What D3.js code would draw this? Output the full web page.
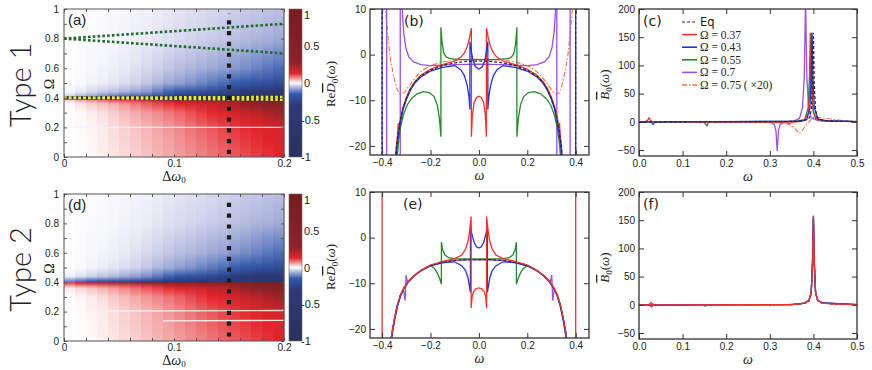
<!DOCTYPE html>
<html>
<head>
<meta charset="utf-8">
<script src="https://d3js.org/d3.v7.min.js"></script>
<style>
body { margin: 0; background: #fff; }
svg text { fill: #222; }
</style>
</head>
<body>
<svg id="fig" width="872" height="370"></svg>
<script>
var dwCols = [0.005,0.015,0.025,0.035,0.045,0.055,0.065,0.075,0.085,0.095,0.105,0.115,0.125,0.135,0.145,0.155,0.165,0.175,0.185,0.195];
var omegaStops = [0, 0.1, 0.19, 0.3, 0.36, 0.395, 0.405, 0.44, 0.5, 0.6, 0.8, 1];

var heatType1 = [
  [0,.002,.005,.009,.015,.021,.028,.035,.042,.05,.058,.066,.074,.082,.09,.098,.106,.114,.122,.13],
  [0,.002,.006,.011,.018,.025,.032,.04,.048,.055,.064,.073,.082,.091,.1,.108,.116,.124,.132,.14],
  [0,.003,.007,.012,.02,.027,.035,.043,.051,.06,.07,.08,.09,.1,.11,.118,.126,.134,.142,.15],
  [0,.004,.01,.018,.03,.04,.05,.06,.07,.08,.092,.104,.116,.128,.14,.16,.18,.2,.225,.25],
  [.005,.015,.028,.04,.05,.065,.08,.095,.108,.12,.135,.15,.165,.18,.2,.23,.27,.31,.355,.4],
  [.04,.07,.09,.11,.13,.155,.18,.205,.23,.25,.28,.31,.34,.37,.4,.45,.5,.55,.6,.65],
  [-.04,-.07,-.09,-.11,-.13,-.155,-.18,-.205,-.23,-.25,-.28,-.31,-.34,-.37,-.4,-.45,-.5,-.55,-.6,-.65],
  [-.008,-.018,-.03,-.04,-.05,-.062,-.075,-.09,-.115,-.14,-.16,-.18,-.2,-.225,-.25,-.28,-.31,-.35,-.4,-.45],
  [0,-.005,-.01,-.015,-.02,-.027,-.035,-.045,-.057,-.07,-.082,-.094,-.106,-.118,-.13,-.146,-.162,-.178,-.198,-.22],
  [0,-.003,-.006,-.009,-.012,-.017,-.023,-.03,-.037,-.045,-.052,-.059,-.066,-.073,-.08,-.09,-.1,-.11,-.12,-.13],
  [0,-.002,-.003,-.005,-.007,-.01,-.013,-.016,-.02,-.025,-.029,-.033,-.037,-.041,-.045,-.05,-.055,-.06,-.065,-.07],
  [0,-.001,-.002,-.003,-.005,-.007,-.009,-.011,-.014,-.018,-.021,-.024,-.027,-.03,-.035,-.038,-.041,-.044,-.047,-.05]
];
var heatType2 = [
  [0,.002,.005,.009,.015,.021,.028,.035,.042,.05,.058,.066,.074,.082,.09,.098,.106,.114,.122,.13],
  [0,.002,.006,.011,.018,.025,.032,.04,.048,.055,.064,.073,.082,.091,.1,.108,.116,.124,.132,.14],
  [0,.003,.007,.012,.02,.027,.035,.043,.051,.06,.07,.08,.09,.1,.11,.118,.126,.134,.142,.15],
  [.002,.006,.012,.02,.032,.042,.052,.062,.072,.082,.094,.106,.118,.13,.143,.162,.182,.203,.228,.25],
  [.012,.024,.036,.048,.06,.072,.086,.1,.113,.126,.14,.155,.17,.186,.205,.235,.27,.31,.355,.4],
  [.11,.13,.15,.17,.19,.21,.23,.25,.27,.29,.31,.33,.36,.39,.42,.46,.5,.55,.6,.65],
  [-.11,-.13,-.15,-.17,-.19,-.21,-.23,-.25,-.27,-.29,-.31,-.33,-.36,-.39,-.42,-.46,-.5,-.55,-.6,-.65],
  [-.012,-.022,-.034,-.045,-.056,-.068,-.08,-.095,-.118,-.14,-.16,-.18,-.2,-.225,-.25,-.28,-.31,-.35,-.4,-.45],
  [0,-.005,-.01,-.015,-.02,-.027,-.035,-.045,-.057,-.07,-.082,-.094,-.106,-.118,-.13,-.146,-.162,-.178,-.198,-.22],
  [0,-.003,-.006,-.009,-.012,-.017,-.023,-.03,-.037,-.045,-.052,-.059,-.066,-.073,-.08,-.09,-.1,-.11,-.12,-.13],
  [0,-.002,-.003,-.005,-.007,-.01,-.013,-.016,-.02,-.025,-.029,-.033,-.037,-.041,-.045,-.05,-.055,-.06,-.065,-.07],
  [0,-.001,-.002,-.003,-.005,-.007,-.009,-.011,-.014,-.018,-.021,-.024,-.027,-.03,-.035,-.038,-.041,-.044,-.047,-.05]
];

// overlays on the heat maps, [dw, Omega]
var greenDotted1 = [[[0, 0.8], [0.2, 0.9]], [[0, 0.8], [0.2, 0.7]]];
var yellowDotted1 = [[[0, 0.4], [0.2, 0.405]], [[0, 0.4], [0.2, 0.387]]];
var whiteLines1 = [[[0.006, 0.2], [0.2, 0.2]]];
var whiteLines2 = [[[0.04, 0.204], [0.2, 0.207]], [[0.09, 0.137], [0.2, 0.14]]];
var dashLine1 = [[0.15, 0.02], [0.15, 0.97]];
var dashLine2 = [[0.15, 0.03], [0.15, 0.98]];

// colour bar
var cmapVals = [-1, -0.3, -0.15, -0.05, 0, 0.05, 0.13, 0.28, 1];
var cmapCols = ["#2c305f", "#2d3a78", "#3159ae", "#bcc0e2", "#ffffff", "#f4aaaa", "#e4242b", "#8a2327", "#781c20"];
var cbarTicks = [1, 0.5, 0, -0.5, -1];
var cbarLabels = ["1", "0.5", "0", "-0.5", "-1"];

// ---- Re D0 panels (b), (e): [omega, value]
var eqB = [
  [[-0.347,-24],[-0.34,-20],[-0.333,-17],[-0.325,-14.5],[-0.315,-12],[-0.3,-9.6],[-0.285,-7.8],[-0.265,-6.1],[-0.24,-4.7],[-0.2,-3.4],[-0.15,-2.4],[-0.1,-1.8],[-0.05,-1.5],[0,-1.4],
   [0.05,-1.5],[0.1,-1.8],[0.15,-2.4],[0.2,-3.4],[0.24,-4.7],[0.265,-6.1],[0.285,-7.8],[0.3,-9.6],[0.315,-12],[0.325,-14.5],[0.333,-17],[0.34,-20],[0.347,-24]],
  [[-0.4,-23],[-0.4,11]], [[0.4,-23],[0.4,11]]
];
var redB = [
  [[-0.347,-24],[-0.341,-20],[-0.336,-17.5],[-0.333,-15],[-0.33,-16.6],[-0.325,-14.3],[-0.315,-11.8],[-0.3,-9.4],[-0.285,-7.6],[-0.265,-5.9],[-0.24,-4.5],[-0.2,-3.2],[-0.15,-2.2],[-0.1,-1.4],
   [-0.075,-0.6],[-0.06,0.4],[-0.048,1.8],[-0.039,3.6],[-0.031,5.8],[-0.031,-18],[-0.027,-13.5],[-0.02,-10.6],[-0.01,-9.4],[0,-9.1],[0.01,-9.4],[0.02,-10.6],[0.027,-13.5],[0.031,-18],
   [0.031,5.8],[0.039,3.6],[0.048,1.8],[0.06,0.4],[0.075,-0.6],[0.1,-1.4],[0.15,-2.2],[0.2,-3.2],[0.24,-4.5],[0.265,-5.9],[0.285,-7.6],[0.3,-9.4],[0.315,-11.8],[0.325,-14.3],[0.33,-16.6],
   [0.333,-15],[0.336,-17.5],[0.341,-20],[0.347,-24]]
];
var blueB = [
  [[-0.4,-23],[-0.4,11]], [[0.4,-23],[0.4,11]],
  [[-0.345,-24],[-0.338,-20],[-0.331,-17],[-0.323,-14.5],[-0.313,-12],[-0.298,-9.6],[-0.283,-7.8],[-0.263,-6.1],[-0.24,-4.9],[-0.2,-3.6],[-0.15,-2.8],[-0.1,-2.4],
   [-0.075,-3.3],[-0.06,-4.6],[-0.048,-6.8],[-0.041,-9.2],[-0.037,-12],[-0.037,2.8],[-0.032,1],[-0.025,-1.2],[-0.015,-2.6],[0,-3.2],[0.015,-2.6],[0.025,-1.2],[0.032,1],[0.037,2.8],[0.037,-12],
   [0.041,-9.2],[0.048,-6.8],[0.06,-4.6],[0.075,-3.3],[0.1,-2.4],[0.15,-2.8],[0.2,-3.6],[0.24,-4.9],[0.263,-6.1],[0.283,-7.8],[0.298,-9.6],[0.313,-12],[0.323,-14.5],[0.331,-17],[0.338,-20],[0.345,-24]]
];
var greenB = [
  [[-0.34,-24],[-0.333,-19.5],[-0.324,-16],[-0.313,-13.4],[-0.298,-11.2],[-0.28,-9.7],[-0.255,-8.6],[-0.23,-8.1],[-0.205,-8.3],[-0.185,-9.2],[-0.172,-11],[-0.163,-14],[-0.157,-18],
   [-0.157,6],[-0.152,2.5],[-0.145,0.3],[-0.135,-0.5],[-0.12,-0.9],[-0.07,-1.1],[0,-1.1],[0.07,-1.1],[0.12,-0.9],[0.135,-0.5],[0.145,0.3],[0.152,2.5],[0.157,6],
   [0.157,-18],[0.163,-14],[0.172,-11],[0.185,-9.2],[0.205,-8.3],[0.23,-8.1],[0.255,-8.6],[0.28,-9.7],[0.298,-11.2],[0.313,-13.4],[0.324,-16],[0.333,-19.5],[0.34,-24]]
];
var purpleB = [
  [[-0.381,-23],[-0.381,11]], [[-0.325,-23],[-0.325,11]],
  [[-0.318,11],[-0.311,5],[-0.302,1.5],[-0.29,-0.5],[-0.27,-1.6],[-0.24,-2.2],[-0.2,-2.4],[-0.1,-2.2],[0,-2.1],[0.1,-2.2],[0.2,-2.4],[0.24,-2.2],[0.27,-1.6],[0.29,-0.5],[0.302,1.5],[0.311,5],[0.318,11]],
  [[0.322,-23],[0.322,11]], [[0.377,-23],[0.377,11]]
];
var orangeB = [
  [[-0.388,11],[-0.378,5],[-0.368,0],[-0.355,-4],[-0.342,-7],[-0.33,-8.5],[-0.32,-8.7],[-0.305,-8.1],[-0.285,-6.6],[-0.26,-4.8],[-0.23,-3.3],[-0.2,-2.4],[-0.15,-1.6],[-0.1,-1.2],[0,-1.0],
   [0.1,-1.2],[0.15,-1.6],[0.2,-2.4],[0.23,-3.3],[0.26,-4.8],[0.285,-6.6],[0.305,-8.1],[0.32,-8.7],[0.33,-8.5],[0.342,-7],[0.355,-4],[0.368,0],[0.378,5],[0.388,11]]
];

var eqE = [
  [[-0.368,-24],[-0.358,-20.5],[-0.348,-17.5],[-0.338,-15],[-0.325,-12.7],[-0.31,-11],[-0.29,-9.5],[-0.27,-8.4],[-0.24,-7.2],[-0.2,-6.1],[-0.15,-5.4],[-0.1,-5.0],[-0.05,-4.85],[0,-4.8],
   [0.05,-4.85],[0.1,-5.0],[0.15,-5.4],[0.2,-6.1],[0.24,-7.2],[0.27,-8.4],[0.29,-9.5],[0.31,-11],[0.325,-12.7],[0.338,-15],[0.348,-17.5],[0.358,-20.5],[0.368,-24]]
];
var redE = [
  [[-0.4,-23],[-0.4,11]], [[0.4,-23],[0.4,11]],
  [[-0.368,-24],[-0.358,-20.5],[-0.348,-17.5],[-0.338,-15],[-0.325,-12.7],[-0.31,-11],[-0.29,-9.5],[-0.27,-8.4],[-0.24,-7.2],[-0.2,-6.0],[-0.15,-5.2],[-0.1,-4.6],
   [-0.07,-3.8],[-0.055,-2.5],[-0.045,-0.8],[-0.038,1.5],[-0.032,4.6],[-0.032,-15.4],[-0.028,-13],[-0.022,-11.8],[-0.012,-11.2],[0,-11],[0.012,-11.2],[0.022,-11.8],[0.028,-13],[0.032,-15.4],
   [0.032,4.6],[0.038,1.5],[0.045,-0.8],[0.055,-2.5],[0.07,-3.8],[0.1,-4.6],[0.15,-5.2],[0.2,-6.0],[0.24,-7.2],[0.27,-8.4],[0.29,-9.5],[0.31,-11],[0.325,-12.7],[0.338,-15],[0.348,-17.5],[0.358,-20.5],[0.368,-24]]
];
var blueE = [
  [[-0.366,-24],[-0.356,-20.5],[-0.346,-17.5],[-0.336,-15],[-0.323,-12.7],[-0.308,-11],[-0.288,-9.5],[-0.268,-8.4],[-0.24,-7.3],[-0.2,-6.2],[-0.15,-5.5],[-0.1,-5.3],
   [-0.07,-6.2],[-0.055,-7.2],[-0.045,-8.8],[-0.035,-12],[-0.035,3],[-0.03,1],[-0.02,-1],[-0.01,-2],[0,-2.3],[0.01,-2],[0.02,-1],[0.03,1],[0.035,3],[0.035,-12],
   [0.045,-8.8],[0.055,-7.2],[0.07,-6.2],[0.1,-5.3],[0.15,-5.5],[0.2,-6.2],[0.24,-7.3],[0.268,-8.4],[0.288,-9.5],[0.308,-11],[0.323,-12.7],[0.336,-15],[0.346,-17.5],[0.356,-20.5],[0.366,-24]]
];
var greenE = [
  [[-0.367,-24],[-0.357,-20.5],[-0.347,-17.5],[-0.337,-15],[-0.324,-12.7],[-0.309,-11],[-0.289,-9.5],[-0.269,-8.4],[-0.24,-7.2],[-0.2,-6.1],[-0.185,-6.7],[-0.172,-7.7],[-0.162,-9],[-0.155,-10.2],
   [-0.155,-1],[-0.15,-2.6],[-0.14,-3.8],[-0.125,-4.4],[-0.1,-4.6],[0,-4.7],[0.1,-4.6],[0.125,-4.4],[0.14,-3.8],[0.15,-2.6],[0.155,-1],
   [0.155,-10.2],[0.162,-9],[0.172,-7.7],[0.185,-6.7],[0.2,-6.1],[0.24,-7.2],[0.269,-8.4],[0.289,-9.5],[0.309,-11],[0.324,-12.7],[0.337,-15],[0.347,-17.5],[0.357,-20.5],[0.367,-24]]
];
var purpleE = [
  [[-0.368,-24],[-0.358,-20.5],[-0.348,-17.5],[-0.338,-15],[-0.325,-12.7],[-0.312,-11.3],[-0.305,-13.8],[-0.301,-8.2],[-0.296,-9.6],[-0.29,-9.5],[-0.27,-8.4],[-0.24,-7.2],[-0.2,-6.1],[-0.1,-5.0],[0,-4.8],
   [0.1,-5.0],[0.2,-6.1],[0.24,-7.2],[0.27,-8.4],[0.29,-9.5],[0.296,-9.6],[0.301,-8.2],[0.305,-13.8],[0.312,-11.3],[0.325,-12.7],[0.338,-15],[0.348,-17.5],[0.358,-20.5],[0.368,-24]]
];
var orangeE = [
  [[-0.367,-24],[-0.357,-20.5],[-0.347,-17.5],[-0.337,-15],[-0.324,-12.7],[-0.309,-11],[-0.289,-9.5],[-0.269,-8.4],[-0.24,-7.2],[-0.2,-6.0],[-0.1,-4.9],[0,-4.7],
   [0.1,-4.9],[0.2,-6.0],[0.24,-7.2],[0.269,-8.4],[0.289,-9.5],[0.309,-11],[0.324,-12.7],[0.337,-15],[0.347,-17.5],[0.357,-20.5],[0.367,-24]]
];

// ---- B0 panels (c), (f): [omega, value]
var eqC = [[[0,0],[0.3,0.2],[0.36,0.8],[0.38,2.5],[0.39,6],[0.395,20],[0.398,70],[0.4,158],[0.402,70],[0.405,20],[0.41,7],[0.42,3],[0.45,1],[0.5,0.4]]];
var redC = [[[0,0],[0.015,0.5],[0.02,3],[0.023,7],[0.026,3],[0.03,0],[0.34,-0.5],[0.345,-3],[0.35,-1],[0.37,1],[0.38,3],[0.388,15],[0.393,70],[0.395,158],[0.397,70],[0.4,15],[0.41,4],[0.43,1.5],[0.5,0.3]]];
var blueC = [[[0,0],[0.028,-0.5],[0.032,-4.5],[0.036,-1],[0.05,0],[0.37,1],[0.385,4],[0.392,25],[0.395,80],[0.397,158],[0.399,80],[0.402,25],[0.41,5],[0.43,1.5],[0.5,0.3]]];
var greenC = [[[0,0],[0.148,-0.5],[0.153,-4],[0.156,-7],[0.159,-1],[0.17,0],[0.36,1],[0.38,4],[0.388,25],[0.391,80],[0.393,158],[0.395,80],[0.398,25],[0.405,6],[0.42,1.5],[0.5,0.3]]];
var purpleC = [[[0,0],[0.3,-0.8],[0.31,-4],[0.314,-15],[0.317,-52],[0.32,-15],[0.324,-4],[0.335,-0.5],[0.355,1.5],[0.368,6],[0.375,25],[0.379,80],[0.382,215],[0.385,80],[0.389,25],[0.395,7],[0.41,2],[0.5,0.3]]];
var orangeC = [[[0,0],[0.02,1],[0.03,0],[0.3,-0.3],[0.325,-1],[0.34,-3],[0.35,-7],[0.36,-14],[0.368,-21],[0.375,-15],[0.383,-6],[0.39,0],[0.396,5],[0.4,8],[0.41,8.5],[0.42,7],[0.44,5],[0.46,3],[0.48,1.5],[0.5,0.6]]];

var eqF = [[[0,0],[0.3,0.2],[0.36,0.8],[0.38,2.5],[0.39,6],[0.395,20],[0.398,70],[0.4,158],[0.402,70],[0.405,20],[0.41,7],[0.42,3],[0.45,1],[0.5,0.4]]];
var redF = [[[0,0],[0.022,0],[0.025,2.5],[0.028,4],[0.031,2],[0.031,-1.5],[0.028,-3],[0.025,-1.5],[0.025,0],[0.035,0],[0.35,0.5],[0.37,1.5],[0.38,3],[0.39,8],[0.395,22],[0.398,75],[0.4,158],[0.402,75],[0.405,22],[0.41,8],[0.42,3.5],[0.44,1.5],[0.5,0.5]]];
var blueF = [[[0,0],[0.026,0],[0.029,-3.5],[0.032,0],[0.35,0.5],[0.38,3],[0.39,8],[0.395,22],[0.398,75],[0.4,156],[0.402,75],[0.405,22],[0.41,8],[0.42,3.5],[0.5,0.5]]];
var greenF = [[[0,0],[0.148,0],[0.152,-2.5],[0.156,0],[0.35,0.5],[0.38,3],[0.39,8],[0.395,22],[0.398,75],[0.4,156],[0.402,75],[0.405,22],[0.41,8],[0.42,3.5],[0.5,0.5]]];
var purpleF = [[[0,0],[0.298,0],[0.301,-1.5],[0.304,0],[0.35,0.5],[0.38,3],[0.39,8],[0.395,22],[0.398,75],[0.4,156],[0.402,75],[0.405,22],[0.41,8],[0.42,3.5],[0.5,0.5]]];
var orangeF = [[[0,0],[0.35,0.5],[0.38,3],[0.39,8],[0.395,22],[0.398,75],[0.4,156],[0.402,75],[0.405,22],[0.41,8],[0.42,3.5],[0.5,0.5]]];

var legendLabels = ["Eq", "\u03a9 = 0.37", "\u03a9 = 0.43", "\u03a9 = 0.55", "\u03a9 = 0.7", "\u03a9 = 0.75 ( \u00d720)"];

var styles = [
  {color: "#2a2a2a", w: 1.2, dash: "3,2"},
  {color: "#f5302c", w: 1.3},
  {color: "#2233e6", w: 1.3},
  {color: "#25892b", w: 1.3},
  {color: "#9b4fe3", w: 1.3},
  {color: "#ff6a3a", w: 1.1, dash: "5,2,1.5,2"}
];

var svg = d3.select("#fig");
var defs = svg.append("defs");
var cmap = d3.scaleLinear().domain(cmapVals).range(cmapCols).clamp(true);

function heatPanel(top, bottom, heat, id) {
  var x = d3.scaleLinear().domain([0, 0.2]).range([64, 284]);
  var y = d3.scaleLinear().domain([0, 1]).range([bottom, top]);
  dwCols.forEach(function(c, k) {
    var grad = defs.append("linearGradient").attr("id", id + k)
      .attr("x1", 0).attr("y1", 0).attr("x2", 0).attr("y2", 1);
    for (var i = omegaStops.length - 1; i >= 0; i--) {
      grad.append("stop").attr("offset", 1 - omegaStops[i]).attr("stop-color", cmap(heat[i][k]));
    }
  });
  svg.append("g").selectAll("rect").data(dwCols).enter().append("rect")
    .attr("x", function(d) { return x(d - 0.005); })
    .attr("width", x(0.01) - x(0) + 0.4)
    .attr("y", top).attr("height", bottom - top)
    .attr("fill", function(d, k) { return "url(#" + id + k + ")"; });
  return {x: x, y: y};
}

function overlay(sc, segs, color, w, dash, op) {
  var line = d3.line().x(function(d) { return sc.x(d[0]); }).y(function(d) { return sc.y(d[1]); });
  svg.append("g").selectAll("path").data(segs).enter().append("path")
    .attr("d", line).attr("fill", "none").attr("stroke", color)
    .attr("stroke-width", w).attr("stroke-dasharray", dash).attr("opacity", op || 1);
}

function heatAxes(sc, top, bottom, tag, typeName) {
  var g = svg.append("g").style("font-family", "'Liberation Sans', Arial, sans-serif").style("font-size", "11px");
  g.append("g").attr("transform", "translate(0," + bottom + ")")
    .call(d3.axisBottom(sc.x).tickValues([0, 0.1, 0.2]).tickSize(0).tickPadding(3).tickFormat(d3.format("~g")));
  g.append("g").attr("transform", "translate(0," + bottom + ")")
    .call(d3.axisBottom(sc.x).ticks(10).tickSize(-3).tickFormat(""));
  g.append("g").attr("transform", "translate(0," + top + ")")
    .call(d3.axisTop(sc.x).ticks(10).tickSize(-3).tickFormat(""));
  g.append("g").attr("transform", "translate(64,0)")
    .call(d3.axisLeft(sc.y).tickValues([0, 0.2, 0.4, 0.6, 0.8, 1]).tickSize(0).tickPadding(5).tickFormat(d3.format("~g")));
  g.append("g").attr("transform", "translate(64,0)")
    .call(d3.axisLeft(sc.y).ticks(10).tickSize(-3).tickFormat(""));
  g.append("g").attr("transform", "translate(284,0)")
    .call(d3.axisRight(sc.y).ticks(10).tickSize(-3).tickFormat(""));
  g.selectAll(".domain").remove();
  g.selectAll("line").attr("stroke", "#555");
  g.selectAll("text").attr("fill", "#222");
  svg.append("rect").attr("x", 64).attr("y", top).attr("width", 220).attr("height", bottom - top)
    .attr("fill", "none").attr("stroke", "#555").attr("stroke-width", 1);

  svg.append("text").attr("x", 68).attr("y", top + 16).style("font-family", "'Liberation Sans', Arial, sans-serif")
    .style("font-size", "15px").text(tag);

  var xl = svg.append("text").attr("x", 174).attr("y", bottom + 24).attr("text-anchor", "middle")
    .style("font-family", "'Liberation Serif', serif").style("font-size", "14px");
  xl.append("tspan").text("\u0394");
  xl.append("tspan").style("font-style", "italic").text("\u03c9");
  xl.append("tspan").attr("dy", 2).style("font-size", "9px").text("0");

  svg.append("text").attr("transform", "translate(54," + ((top + bottom) / 2 + 1) + ") rotate(-90)")
    .attr("text-anchor", "middle").style("font-family", "'Liberation Serif', serif").style("font-size", "14px").text("\u03a9");

  svg.append("text").attr("transform", "translate(31," + ((top + bottom) / 2 + 2) + ") rotate(-90)")
    .attr("text-anchor", "middle").style("font-family", "Lato, 'Liberation Sans', sans-serif").style("font-weight", 300)
    .style("font-size", "29px").attr("fill", "#333").text(typeName);

  // colour bar
  var cy = d3.scaleLinear().domain([-1, 1]).range([bottom, top]);
  var gid = "cbar" + tag.replace(/\W/g, "");
  var grad = defs.append("linearGradient").attr("id", gid).attr("x1", 0).attr("y1", 1).attr("x2", 0).attr("y2", 0);
  cmapVals.forEach(function(v, i) {
    grad.append("stop").attr("offset", (v + 1) / 2).attr("stop-color", cmapCols[i]);
  });
  svg.append("rect").attr("x", 289).attr("y", top).attr("width", 13).attr("height", bottom - top)
    .attr("fill", "url(#" + gid + ")").attr("stroke", "#666").attr("stroke-width", 0.6);
  svg.append("g").selectAll("text").data(cbarTicks).enter().append("text")
    .attr("x", function(d) { return d < 0 ? 301 : 304; })
    .attr("y", function(d) { return Math.max(cy(d), top + 6) + 4; })
    .style("font-family", "'Liberation Sans', Arial, sans-serif").style("font-size", "11px")
    .text(function(d, i) { return cbarLabels[i]; });
}

function linePanel(p) {
  var x = d3.scaleLinear().domain(p.xd).range([p.x0, p.x1]);
  var y = d3.scaleLinear().domain(p.yd).range([p.y1, p.y0]);
  var clipId = "clip" + p.name;
  defs.append("clipPath").attr("id", clipId).append("rect")
    .attr("x", p.x0).attr("y", p.y0).attr("width", p.x1 - p.x0).attr("height", p.y1 - p.y0);
  var line = d3.line().x(function(d) { return x(d[0]); }).y(function(d) { return y(d[1]); });
  var plot = svg.append("g").attr("clip-path", "url(#" + clipId + ")");
  p.order.forEach(function(i) {
    var st = styles[i];
    plot.append("g").selectAll("path").data(p.series[i]).enter().append("path")
      .attr("d", line).attr("fill", "none").attr("stroke", st.color)
      .attr("stroke-width", st.w).attr("stroke-dasharray", st.dash || null);
  });

  var g = svg.append("g").style("font-family", "'DejaVu Sans', sans-serif").style("font-size", "11.5px");
  g.append("g").attr("transform", "translate(0," + p.y1 + ")")
    .call(d3.axisBottom(x).tickValues(p.xt).tickSize(-5).tickPadding(4).tickFormat(d3.format(p.xf)));
  g.append("g").attr("transform", "translate(0," + p.y0 + ")")
    .call(d3.axisTop(x).tickValues(p.xt).tickSize(-5).tickFormat(""));
  g.append("g").attr("transform", "translate(" + p.x0 + ",0)")
    .call(d3.axisLeft(y).tickValues(p.yt).tickSize(-5).tickPadding(4).tickFormat(d3.format("d")));
  g.append("g").attr("transform", "translate(" + p.x1 + ",0)")
    .call(d3.axisRight(y).tickValues(p.yt).tickSize(-5).tickFormat(""));
  g.selectAll(".domain").remove();
  g.selectAll("line").attr("stroke", "#333");
  g.selectAll("text").attr("fill", "#111");
  svg.append("rect").attr("x", p.x0).attr("y", p.y0).attr("width", p.x1 - p.x0).attr("height", p.y1 - p.y0)
    .attr("fill", "none").attr("stroke", "#333").attr("stroke-width", 1.3);

  svg.append("text").attr("x", p.tagX).attr("y", p.y0 + 17).style("font-family", "'DejaVu Sans', sans-serif")
    .style("font-size", "14px").text(p.tag);
  svg.append("text").attr("x", (p.x0 + p.x1) / 2).attr("y", p.y1 + 25).attr("text-anchor", "middle")
    .style("font-family", "'Liberation Serif', serif").style("font-style", "italic").style("font-size", "14px").text("\u03c9");

  var yl = svg.append("text").attr("transform", "translate(" + p.ylX + "," + ((p.y0 + p.y1) / 2 + 2) + ") rotate(-90)")
    .attr("text-anchor", "middle").style("font-family", "'Liberation Serif', serif").style("font-size", "13px");
  if (p.ylRe) yl.append("tspan").text("Re");
  yl.append("tspan").style("font-style", "italic").style("text-decoration", "overline").text(p.ylSym);
  yl.append("tspan").attr("dy", 3).style("font-size", "9px").text("0");
  yl.append("tspan").attr("dy", -3).text("(");
  yl.append("tspan").style("font-style", "italic").text("\u03c9");
  yl.append("tspan").text(")");
  return {x: x, y: y};
}

// (a) and (d)
var scA = heatPanel(9, 157, heatType1, "ga");
overlay(scA, whiteLines1, "#f2f2fa", 1.3, null, 0.85);
overlay(scA, greenDotted1, "#1f6a2c", 2.6, "2.6,2.2");
overlay(scA, yellowDotted1, "#26305e", 3.2, null, 0.8);
overlay(scA, yellowDotted1, "#ecec2a", 2.6, "2.6,2.2");
overlay(scA, [dashLine1], "#1c1c1c", 4.2, "4.2,6.6");
heatAxes(scA, 9, 157, "(a)", "Type 1");

var scD = heatPanel(194, 341, heatType2, "gd");
overlay(scD, whiteLines2, "#f6f6fb", 1.4, null, 0.9);
overlay(scD, [dashLine2], "#1c1c1c", 4.2, "4.2,6.6");
heatAxes(scD, 194, 341, "(d)", "Type 2");

// (b) and (e)
linePanel({name: "b", xd: [-0.45, 0.455], yd: [-22, 10], x0: 370, x1: 589, y0: 9, y1: 155,
  series: [eqB, redB, blueB, greenB, purpleB, orangeB], order: [5, 4, 3, 1, 2, 0],
  xt: [-0.4, -0.2, 0, 0.2, 0.4], xf: ".1f", yt: [10, 0, -10, -20],
  tag: "(b)", tagX: 404, ylX: 335, ylRe: true, ylSym: "D"});
linePanel({name: "e", xd: [-0.45, 0.455], yd: [-22, 10], x0: 370, x1: 589, y0: 192, y1: 338,
  series: [eqE, redE, blueE, greenE, purpleE, orangeE], order: [5, 4, 3, 2, 0, 1],
  xt: [-0.4, -0.2, 0, 0.2, 0.4], xf: ".1f", yt: [10, 0, -10, -20],
  tag: "(e)", tagX: 403, ylX: 335, ylRe: true, ylSym: "D"});

// (c) and (f)
linePanel({name: "c", xd: [0, 0.5], yd: [-60.6, 200], x0: 639, x1: 857, y0: 9, y1: 156,
  series: [eqC, redC, blueC, greenC, purpleC, orangeC], order: [5, 4, 3, 1, 2, 0],
  xt: [0, 0.1, 0.2, 0.3, 0.4, 0.5], xf: ".1f", yt: [-50, 0, 50, 100, 150, 200],
  tag: "(c)", tagX: 643, ylX: 609, ylRe: false, ylSym: "B"});
linePanel({name: "f", xd: [0, 0.5], yd: [-60.6, 200], x0: 639, x1: 857, y0: 192, y1: 339,
  series: [eqF, redF, blueF, greenF, purpleF, orangeF], order: [0, 5, 4, 3, 2, 1],
  xt: [0, 0.1, 0.2, 0.3, 0.4, 0.5], xf: ".1f", yt: [-50, 0, 50, 100, 150, 200],
  tag: "(f)", tagX: 643, ylX: 609, ylRe: false, ylSym: "B"});

// legend in (c)
var leg = svg.append("g");
var legY = [22, 34.6, 47.2, 59.8, 72.4, 85];
legendLabels.forEach(function(lab, i) {
  var st = styles[i];
  leg.append("line").attr("x1", 682).attr("x2", 697).attr("y1", legY[i]).attr("y2", legY[i])
    .attr("stroke", st.color).attr("stroke-width", i === 0 ? 1.2 : 1.6).attr("stroke-dasharray", st.dash || null);
  leg.append("text").attr("x", 700).attr("y", legY[i] + 4)
    .style("font-family", i === 0 ? "'DejaVu Sans', sans-serif" : "'Liberation Serif', serif")
    .style("font-size", i === 0 ? "11.5px" : "11.5px").text(lab);
});
</script>
</body>
</html>
